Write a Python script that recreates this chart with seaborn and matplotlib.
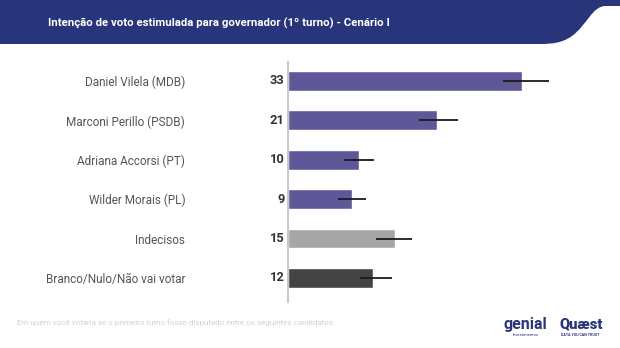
import matplotlib
matplotlib.use("Agg")
import matplotlib.pyplot as plt
import seaborn as sns
import pandas as pd
from matplotlib.path import Path
from matplotlib.patches import PathPatch

# Data
candidatos = ["Daniel Vilela (MDB)", "Marconi Perillo (PSDB)", "Adriana Accorsi (PT)",
              "Wilder Morais (PL)", "Indecisos", "Branco/Nulo/Não vai votar"]
votos = [33, 21, 10, 9, 15, 12]
erro_inf = [2.7, 2.5, 2.1, 2.0, 2.6, 1.9]
erro_sup = [3.8, 3.0, 2.1, 2.0, 2.4, 2.6]
cores = ["#5f5898", "#5f5898", "#5f5898", "#5f5898", "#a6a6a6", "#444444"]

titulo = "Intenção de voto estimulada para governador (1º turno) - Cenário I"
rodape = "Em quem você votaria se o primeiro turno fosse disputado entre os seguintes candidatos:"

sns.set_theme(style="white")
plt.rcParams["font.family"] = ["Roboto", "DejaVu Sans"]

W, H = 620, 348
fig = plt.figure(figsize=(W / 100, H / 100), dpi=100)

# Header band with curved cut in the top-right corner
hdr = fig.add_axes([0, 0, 1, 1], zorder=0)
hdr.set_xlim(0, W)
hdr.set_ylim(H, 0)
hdr.axis("off")
verts = [(0, 0), (620, 0), (620, 6), (606, 6),
         (592, 6), (588, 24), (572, 36),
         (562, 43), (552, 44), (540, 44),
         (0, 44), (0, 0)]
codes = [Path.MOVETO, Path.LINETO, Path.LINETO, Path.LINETO,
         Path.CURVE4, Path.CURVE4, Path.CURVE4,
         Path.CURVE4, Path.CURVE4, Path.CURVE4,
         Path.LINETO, Path.CLOSEPOLY]
hdr.add_patch(PathPatch(Path(verts, codes), facecolor="#28357a", edgecolor="none"))
hdr.text(48, 23, titulo, color="white", fontsize=8.2, fontweight="bold",
         va="center", ha="left")
hdr.text(17, 323, rodape, color="#d2d2d2", fontsize=5.8, va="center", ha="left")

# Logos as text
hdr.text(503, 325, "genial", color="#28357a", fontsize=11.5, fontweight="bold",
         va="center", ha="left")
hdr.text(526, 335, "investimentos", color="#28357a", fontsize=3, va="center", ha="center")
hdr.text(559, 324, "Quæst", color="#28357a", fontsize=10.5, fontweight="black",
         va="center", ha="left")
hdr.text(580, 335, "DATA YOU CAN TRUST", color="#28357a", fontsize=2.6,
         fontweight="bold", va="center", ha="center")

# Bar chart
x0, x1 = 288, 600
y_top, y_bot = 62, 302
ax = fig.add_axes([x0 / W, 1 - y_bot / H, (x1 - x0) / W, (y_bot - y_top) / H], zorder=1)
ax.patch.set_alpha(0)

df = pd.DataFrame({"candidato": candidatos, "votos": votos})
sns.barplot(data=df, y="candidato", x="votos", hue="candidato", palette=cores,
            order=candidatos, hue_order=candidatos, orient="h", width=0.5,
            legend=False, ax=ax, saturation=1)

ax.errorbar(votos, range(len(votos)), xerr=[erro_inf, erro_sup], fmt="none",
            ecolor="#1a1a1a", elinewidth=1.3, capsize=0, zorder=3)

ax.set_xlim(0, (x1 - x0) / 7.1)
ax.set_ylim(5.61, -0.48)
ax.set_xlabel("")
ax.set_ylabel("")
ax.set_xticks([])
ax.tick_params(axis="y", length=0, pad=74, labelsize=8.5, labelcolor="#555555")
for s in ["top", "right", "bottom"]:
    ax.spines[s].set_visible(False)
ax.spines["left"].set_color("#c8c8c8")
ax.spines["left"].set_linewidth(1.5)

for i, v in enumerate(votos):
    ax.annotate(str(v), xy=(0, i), xytext=(-2.5, 0), textcoords="offset points",
                ha="right", va="center", fontsize=9.3, fontweight="bold", color="#333333")

fig.savefig("out.png", dpi=100)
